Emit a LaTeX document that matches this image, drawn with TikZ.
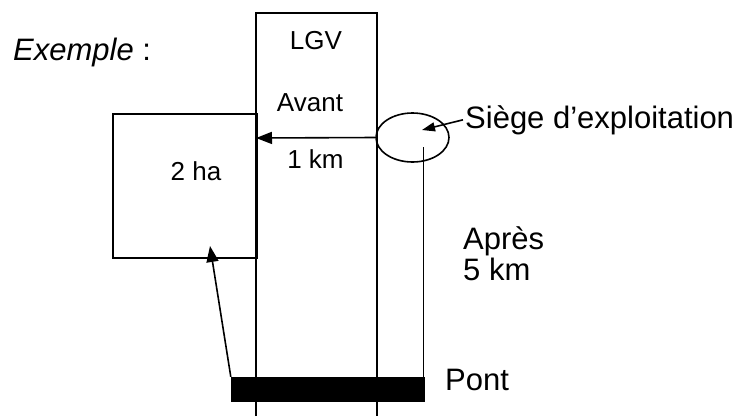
\documentclass[tikz,border=0pt]{standalone}
\usepackage{fontspec}
\setmainfont{Liberation Sans}
\usetikzlibrary{shapes.geometric,arrows.meta}
\begin{document}
\begin{tikzpicture}[x=1pt,y=-1pt,
  line/.style={line width=1.6pt},
  bigarrow/.style={line width=1.6pt,-{Triangle[length=16pt,width=12pt]}},
  smallarrow/.style={line width=1.6pt,-{Triangle[length=13pt,width=9pt]}},
  small/.style={inner sep=0pt,font=\fontsize{26}{30}\selectfont},
  big/.style={inner sep=0pt,font=\fontsize{31}{36}\selectfont,align=left}]
\useasboundingbox (0,0) rectangle (744,416);
% LGV strip
\draw[line] (256,416) -- (256,13) -- (377,13) -- (377,416);
% field
\node[draw,line width=1.6pt,minimum width=144pt,minimum height=144pt,inner sep=0pt,anchor=north west] (field) at (112,113) {};
% siege ellipse
\node[draw,ellipse,line width=1.6pt,minimum width=73pt,minimum height=49pt,inner sep=0pt] (siegeell) at (412.5,137.5) {};
% bridge
\node[fill=black,minimum width=194pt,minimum height=25pt,inner sep=0pt] (bridge) at (328,389.5) {};
% texts
\node[big,anchor=base west] (exemple) at (13,60) {\textit{Exemple} :};
\node[small,anchor=base] (lgv) at (316,49) {LGV};
\node[small,anchor=base] (avant) at (310,111) {Avant};
\node[small,anchor=base] (km1) at (315.5,168) {1 km};
\node[small,anchor=base] (ha) at (196,180) {2 ha};
\node[big,anchor=base west] (siege) at (465,128) {Siège d’exploitation};
\node[big,anchor=base west] (apres) at (463,249) {Après};
\node[big,anchor=base west] (km5) at (463,280) {5 km};
\node[big,anchor=base west] (pont) at (445,390) {Pont};
% connectors
\coordinate (fieldpt) at (256,138);
\draw[bigarrow] (siegeell.west) -- (fieldpt);
\coordinate (vtop) at (423.5,147);
\draw[line] (vtop) -- (vtop |- bridge.north);
\coordinate (fieldbot) at (210,246);
\draw[bigarrow] (bridge.north west) -- (fieldbot);
\coordinate (siegetip) at (422,130);
\draw[smallarrow] ([xshift=-2pt]siege.west) -- (siegetip);
\end{tikzpicture}
\end{document}
